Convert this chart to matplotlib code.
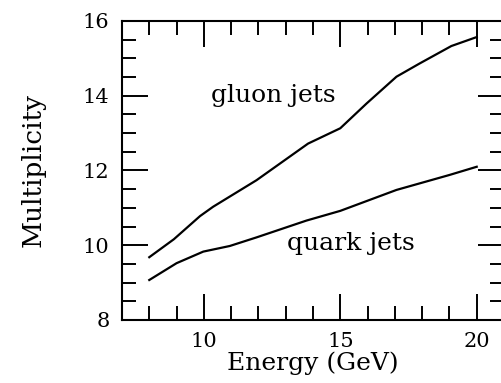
import matplotlib
matplotlib.use("Agg")
import matplotlib.pyplot as plt
from matplotlib.ticker import MultipleLocator

# values
gluon_e = [8.0, 8.9, 9.86, 10.34, 11.93, 13.82, 15.0, 15.96, 17.06, 17.9, 19.07, 20.0]
gluon_n = [9.68, 10.16, 10.78, 11.03, 11.74, 12.72, 13.13, 13.79, 14.51, 14.86, 15.33, 15.57]
quark_e = [8.0, 9.0, 9.98, 10.95, 11.93, 13.76, 15.0, 17.06, 19.0, 20.0]
quark_n = [9.07, 9.52, 9.83, 9.98, 10.21, 10.66, 10.92, 11.48, 11.88, 12.10]

plt.rcParams['font.family'] = 'DejaVu Serif'

fig = plt.figure(figsize=(5.02, 3.83), dpi=100)
ax = fig.add_axes([0.243, 0.1645, 0.761, 0.7807])

ax.plot(gluon_e, gluon_n, color='black', lw=1.6)
ax.plot(quark_e, quark_n, color='black', lw=1.6)

ax.text(12.55, 14.0, 'gluon jets', fontsize=18, ha='center', va='center')
ax.text(15.4, 10.05, 'quark jets', fontsize=18, ha='center', va='center')

ax.set_xlim(7, 21)
ax.set_ylim(8, 16)
ax.xaxis.set_major_locator(MultipleLocator(5))
ax.xaxis.set_minor_locator(MultipleLocator(1))
ax.yaxis.set_major_locator(MultipleLocator(2))
ax.yaxis.set_minor_locator(MultipleLocator(0.5))

ax.tick_params(which='both', direction='in', top=True, right=True, width=1.4, labelsize=15)
ax.tick_params(which='major', length=19)
ax.tick_params(which='minor', length=10)
ax.tick_params(axis='x', pad=9)
ax.tick_params(axis='y', pad=9)
for s in ax.spines.values():
    s.set_linewidth(1.5)

ax.set_xlabel('Energy (GeV)', fontsize=18, labelpad=0)
ax.set_ylabel('Multiplicity', fontsize=19, labelpad=27)

fig.savefig('out.png', dpi=100)
